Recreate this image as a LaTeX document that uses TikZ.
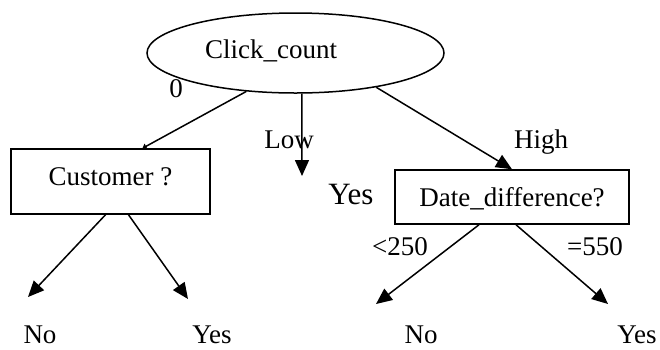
\documentclass[tikz,border=0pt]{standalone}
\usepackage{fontspec}
\setmainfont{Liberation Serif}
\usetikzlibrary{shapes.geometric,arrows.meta,calc}
\begin{document}
\begin{tikzpicture}[x=1pt,y=-1pt, font=\fontsize{27}{31}\selectfont, line width=1.5pt,
  conn/.style={-{Triangle[length=16pt,width=14pt]}},
  smallconn/.style={-{Triangle[length=4pt,width=6pt]}},
  boxnode/.style={draw, rectangle, inner sep=0pt},
  lbl/.style={anchor=base, inner sep=0pt}]
\useasboundingbox (0,0) rectangle (660,349);
\node[draw, ellipse, minimum width=297pt, minimum height=80pt, inner sep=0pt] (root) at (295.5,53) {};
\node[lbl] (rootlbl) at (271,58) {Click\_count};
\node[boxnode, minimum width=199pt, minimum height=65pt,
      text height=18pt, text depth=11pt] (cust) at (110.5,181.5) {Customer ?};
\node[boxnode, minimum width=234pt, minimum height=54pt,
      text height=18pt, text depth=0pt] (date) at (512,197) {Date\_difference?};
\node[lbl] (l0) at (176,97) {0};
\node[lbl] (llow) at (289,148) {Low};
\node[lbl] (lhigh) at (541,148) {High};
\node[lbl] (l250) at (400,255) {<250};
\node[lbl] (l550) at (595,255) {=550};
\node[lbl, font=\fontsize{31}{35}\selectfont] (ymid) at (351,204) {Yes};
\node[lbl] (no1) at (40,343) {No};
\node[lbl] (yes1) at (212,343) {Yes};
\node[lbl] (no2) at (421,343) {No};
\node[lbl] (yes2) at (637,343) {Yes};
\coordinate (lowend) at (302,176);
\coordinate (no1tip) at (28,297);
\coordinate (yes1tip) at (188,299);
\coordinate (no2tip) at (376,304);
\coordinate (yes2tip) at (608,304);
\draw[smallconn] (root.218) -- ($(cust.north)+(32,0)$);
\draw[conn] (root.279) -- (lowend);
\draw[conn] (root.337.3) -- (date.north);
\draw[conn] ($(cust.south)+(-5,0)$) -- (no1tip);
\draw[conn] ($(cust.south)+(18,0)$) -- (yes1tip);
\draw[conn] ($(date.south)+(-33,0)$) -- (no2tip);
\draw[conn] ($(date.south)+(4,0)$) -- (yes2tip);
\end{tikzpicture}
\end{document}
